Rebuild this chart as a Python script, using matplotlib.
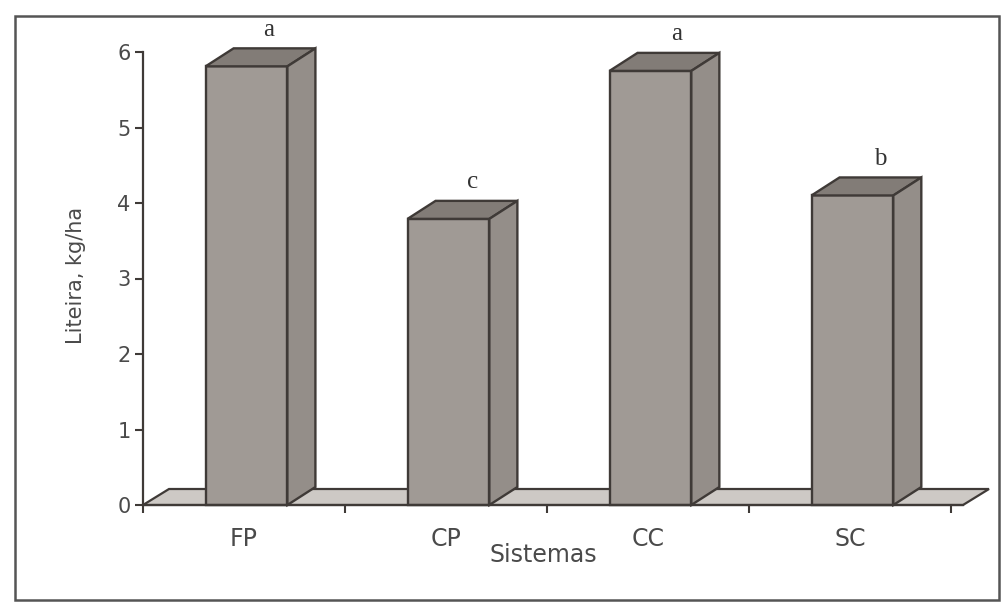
import matplotlib
matplotlib.use("Agg")
import matplotlib.pyplot as plt
from matplotlib.patches import Polygon, Rectangle

categories = ["FP", "CP", "CC", "SC"]
values = [5.81, 3.79, 5.75, 4.10]
letters = ["a", "c", "a", "b"]
yticks = [0, 1, 2, 3, 4, 5, 6]

W, H = 1002, 602
fig = plt.figure(figsize=(W / 100, H / 100), dpi=100)
fig.patch.set_facecolor("white")

ax_left, ax_right = 143, 963
ax_bottom, ax_top = 505, 52
ax = fig.add_axes([ax_left / W, (H - ax_bottom) / H,
                   (ax_right - ax_left) / W, (ax_bottom - ax_top) / H])
xmax = 4.06
ax.set_xlim(0, xmax)
ax.set_ylim(0, 6)
ax.patch.set_alpha(0)

# depth offsets (pixels -> data units)
px_x = xmax / (ax_right - ax_left)
px_y = 6 / (ax_bottom - ax_top)
DX, DY = 28 * px_x, 18 * px_y
FDX, FDY = 26 * px_x, 16 * px_y

edge = "#3f3a37"
front_c = "#a09a95"
side_c = "#948e89"
top_c = "#827c77"
floor_c = "#cdc9c5"
text_c = "#4a4a4a"

# floor
ax.add_patch(Polygon([(0, 0), (xmax, 0), (xmax + FDX, FDY), (FDX, FDY)],
                     closed=True, facecolor=floor_c, edgecolor=edge, lw=1.6,
                     zorder=1, clip_on=False, joinstyle="miter"))

bw = 0.405
for i, (v, lab) in enumerate(zip(values, letters)):
    x0 = i + 0.31
    x1 = x0 + bw
    ax.add_patch(Polygon([(x0, 0), (x1, 0), (x1, v), (x0, v)], closed=True,
                         facecolor=front_c, edgecolor=edge, lw=1.7, zorder=3,
                         clip_on=False))
    ax.add_patch(Polygon([(x0, v), (x1, v), (x1 + DX, v + DY), (x0 + DX, v + DY)],
                         closed=True, facecolor=top_c, edgecolor=edge, lw=1.7,
                         zorder=3, clip_on=False))
    ax.add_patch(Polygon([(x1, 0), (x1 + DX, DY), (x1 + DX, v + DY), (x1, v)],
                         closed=True, facecolor=side_c, edgecolor=edge, lw=1.7,
                         zorder=3, clip_on=False))
    ax.text((x0 + x1) / 2 + DX / 2 + 0.04 + 0.01 * i, v + DY + 0.1, lab,
            ha="center", va="bottom", fontsize=18, family="Liberation Serif",
            color="#333333")

for s in ["top", "right"]:
    ax.spines[s].set_visible(False)
for s in ["left", "bottom"]:
    ax.spines[s].set_color(edge)
    ax.spines[s].set_linewidth(1.6)
    ax.spines[s].set_zorder(5)

ax.set_yticks(yticks)
ax.set_yticklabels([str(t) for t in yticks])
ax.set_xticks([0, 1, 2, 3, 4])
ax.set_xticklabels([])
ax.tick_params(axis="both", direction="out", length=6, width=1.5, color=edge,
               labelsize=15, labelcolor=text_c)
ax.tick_params(axis="y", pad=3)
for t in ax.get_yticklabels():
    t.set_family("DejaVu Sans")

for i, c in enumerate(categories):
    ax.text(i + 0.5, -0.45, c, ha="center", va="center", fontsize=17,
            family="DejaVu Sans", color=text_c)
ax.text(1.98, -0.66, "Sistemas", ha="center", va="center", fontsize=17,
        family="DejaVu Sans", color=text_c)
fig.text(76 / W, 1 - 275 / H, "Liteira, kg/ha", rotation=90, ha="center",
         va="center", fontsize=15, family="DejaVu Sans", color=text_c)

# outer frame
fig.add_artist(Rectangle((15 / W, 2 / H), (999 - 15) / W, (586 - 2) / H,
                         transform=fig.transFigure, fill=False,
                         edgecolor="#555555", lw=1.8))

fig.savefig("out.png", dpi=100, facecolor="white")
